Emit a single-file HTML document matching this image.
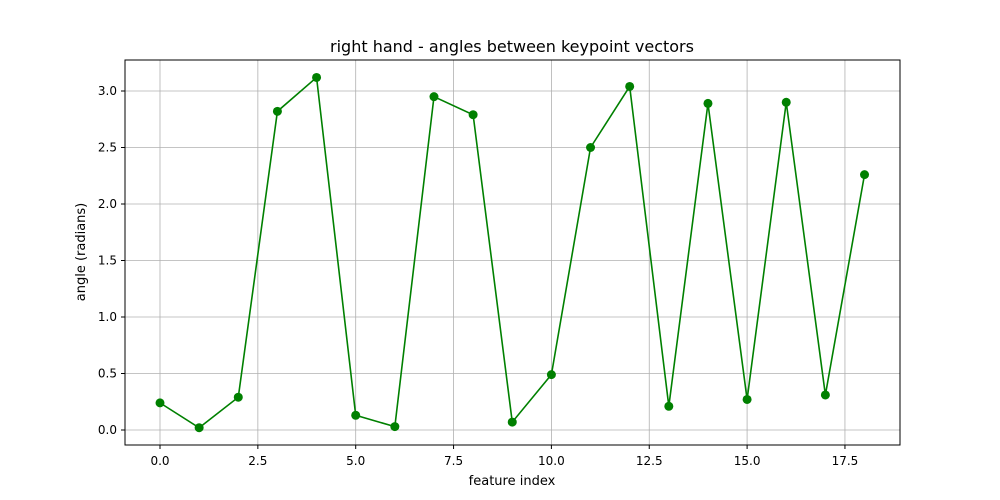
<!DOCTYPE html>
<html><head><meta charset="utf-8"><style>
body{margin:0;background:#fff;}
svg{display:block;font-family:"DejaVu Sans","Liberation Sans",sans-serif;}
</style></head><body>
<svg id="chart" width="1000" height="500">
<rect x="0" y="0" width="1000" height="500" fill="#fff"/>
<g id="grid"></g>
<g id="ticks"></g>
<g id="series"></g>
<rect x="125" y="60" width="775" height="385" fill="none" stroke="#000" stroke-width="1"/>
<text x="512" y="52" text-anchor="middle" font-size="16">right hand - angles between keypoint vectors</text>
<text x="512" y="485" text-anchor="middle" font-size="13">feature index</text>
<text x="85" y="252" text-anchor="middle" font-size="13" transform="rotate(-90 85 252)">angle (radians)</text>
</svg>
<script>
const featureIndex=[0,1,2,3,4,5,6,7,8,9,10,11,12,13,14,15,16,17,18];
const angleValues=[0.24,0.02,0.29,2.82,3.12,0.13,0.03,2.95,2.79,0.07,0.49,2.50,3.04,0.21,2.89,0.27,2.90,0.31,2.26];
const xTicks=[0.0,2.5,5.0,7.5,10.0,12.5,15.0,17.5];
const xTickLabels=["0.0","2.5","5.0","7.5","10.0","12.5","15.0","17.5"];
const yTicks=[0.0,0.5,1.0,1.5,2.0,2.5,3.0];
const yTickLabels=["0.0","0.5","1.0","1.5","2.0","2.5","3.0"];
const NS="http://www.w3.org/2000/svg";
const xs=v=>160+v*39.14;
const ys=v=>430-v*113;
function mk(tag,attrs,parent){const e=document.createElementNS(NS,tag);for(const k in attrs)e.setAttribute(k,attrs[k]);parent.appendChild(e);return e;}
const grid=document.getElementById('grid'),ticks=document.getElementById('ticks'),series=document.getElementById('series');
xTicks.forEach((t,i)=>{const x=xs(t);
 let g=mk('line',{x1:x,x2:x,y1:60,y2:445,stroke:'#b0b0b0','stroke-width':0.8},grid);
 
 
 mk('line',{x1:x,x2:x,y1:445,y2:449,stroke:'#000'},ticks);
 let l=mk('text',{x:x,y:465,'text-anchor':'middle','font-size':12},ticks);l.textContent=xTickLabels[i];
 
 
});
yTicks.forEach((t,i)=>{const y=ys(t);
 let g=mk('line',{x1:125,x2:900,y1:y,y2:y,stroke:'#b0b0b0','stroke-width':0.8},grid);
 
 
 mk('line',{x1:121,x2:125,y1:y,y2:y,stroke:'#000'},ticks);
 let l=mk('text',{x:117,y:y+4,'text-anchor':'end','font-size':12},ticks);l.textContent=yTickLabels[i];
 
 
});
const pts=featureIndex.map((f,i)=>xs(f)+','+ys(angleValues[i])).join(' ');
const line=mk('polyline',{points:pts,fill:'none',stroke:'#008000','stroke-width':1.6},series);


featureIndex.forEach((f,i)=>{
 const c=mk('circle',{cx:xs(f),cy:ys(angleValues[i]),r:4.5,fill:'#008000'},series);
 
 
});
</script>
</body></html>
